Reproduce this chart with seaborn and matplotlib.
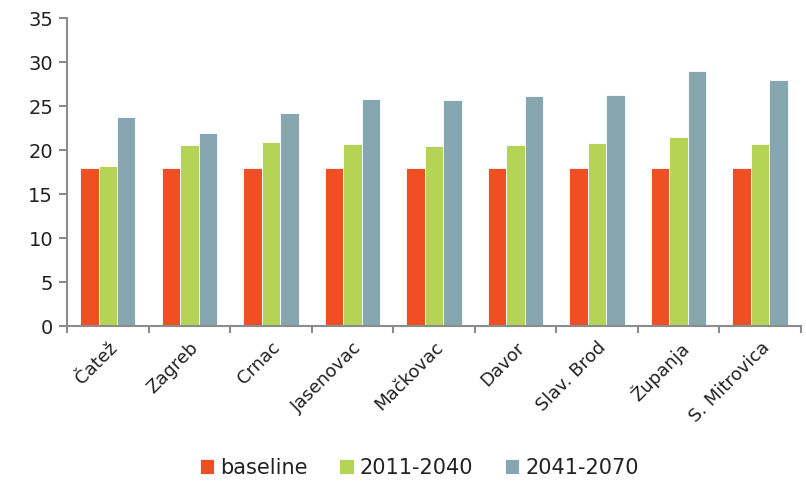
import matplotlib
matplotlib.use("Agg")
import matplotlib.pyplot as plt
import seaborn as sns
import pandas as pd
import numpy as np

sites = ["Čatež", "Zagreb", "Crnac", "Jasenovac", "Mačkovac", "Davor",
         "Slav. Brod", "Županja", "S. Mitrovica"]
periods = ["baseline", "2011-2040", "2041-2070"]
baseline = [18, 18, 18, 18, 18, 18, 18, 18, 18]
p2011_2040 = [18.2, 20.6, 20.9, 20.7, 20.5, 20.6, 20.8, 21.5, 20.7]
p2041_2070 = [23.75, 21.9, 24.2, 25.8, 25.7, 26.1, 26.2, 29.0, 27.9]
colors = ["#F04F23", "#B5D455", "#86A7B0"]
yticks = [0, 5, 10, 15, 20, 25, 30, 35]

df = pd.DataFrame({
    "site": sites * 3,
    "period": [periods[0]] * 9 + [periods[1]] * 9 + [periods[2]] * 9,
    "value": baseline + p2011_2040 + p2041_2070,
})

sns.set_style("white")
plt.rcParams["font.family"] = ["DejaVu Sans"]

fig = plt.figure(figsize=(8.06, 4.84), dpi=100)
ax = fig.add_axes([0.0831, 0.3264, 0.9107, 0.6364])

sns.barplot(data=df, x="site", y="value", hue="period", palette=colors,
            width=0.68, edgecolor="white", linewidth=0.6, ax=ax, saturation=1)

ax.set_ylim(0, 35)
ax.set_xlim(-0.5, len(sites) - 0.5)
ax.set_yticks(yticks)
ax.set_yticklabels([str(v) for v in yticks], fontsize=14, color="#222222")
ax.set_xlabel("")
ax.set_ylabel("")

ax.set_xticks(range(len(sites)))
ax.set_xticklabels(sites, rotation=45, ha="right", rotation_mode="anchor",
                   fontsize=13, color="#222222")
ax.tick_params(axis="x", which="major", length=0, pad=9)
ax.set_xticks(np.arange(-0.5, len(sites), 1.0), minor=True)
ax.tick_params(axis="x", which="minor", length=5, width=1.5, color="#8c8c8c",
               direction="out")
ax.tick_params(axis="y", length=6, width=1.5, color="#8c8c8c", direction="out", pad=4)
ax.tick_params(left=True, bottom=True, which="both")

for s in ["top", "right"]:
    ax.spines[s].set_visible(False)
for s in ["left", "bottom"]:
    ax.spines[s].set_color("#8c8c8c")
    ax.spines[s].set_linewidth(1.5)

leg = ax.legend(loc="center", bbox_to_anchor=(0.48, -0.46), ncol=3,
                frameon=False, fontsize=15, handlelength=0.7, handleheight=0.7,
                handletextpad=0.3, columnspacing=1.5)
for t in leg.get_texts():
    t.set_color("#222222")

fig.savefig("out.png", dpi=100)
